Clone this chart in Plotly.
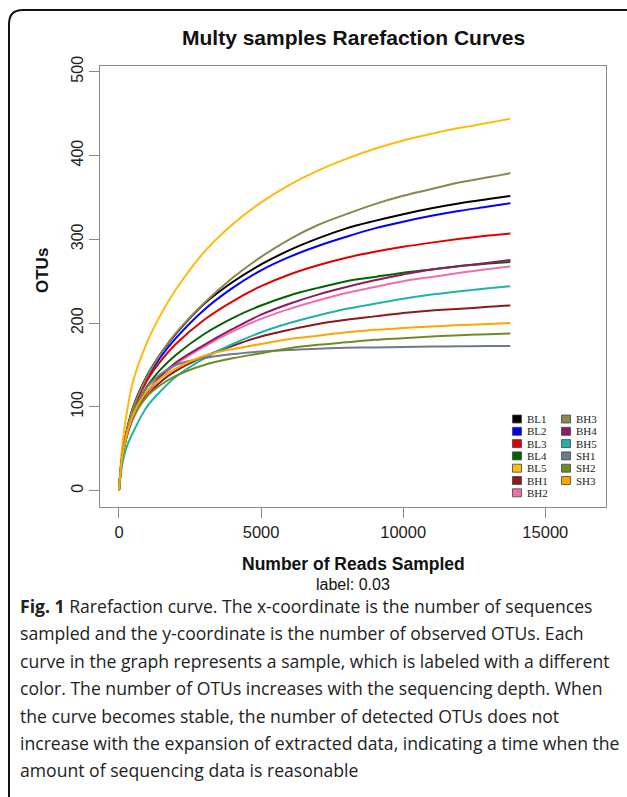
import plotly.graph_objects as go

# ---------------- data ----------------
reads = [0, 100, 250, 500, 1000, 1500, 2000, 3000, 4000, 5000, 6000, 7000,
         8000, 9000, 10000, 11000, 12000, 13000, 13770]

BL1 = [0, 38, 68, 100, 138, 165, 187, 223, 249, 270, 287, 301, 313, 322, 330, 337, 343, 348, 351.7]
BL2 = [0, 38, 67, 98, 135, 161, 182, 216, 242, 263, 279, 292, 303, 313, 321, 328, 334, 339, 343]
BL3 = [0, 38, 67, 97, 132, 156, 175, 204, 226, 244, 258, 269, 278, 285, 291, 296, 300.5, 304.4, 307]
BL4 = [0, 37, 65, 93, 125, 146, 162, 187, 206, 221, 233, 242, 250, 255, 260, 264, 268, 271, 273]
BL5 = [0, 48, 88, 131, 178, 212, 240, 285, 318, 344, 365, 382, 396, 408, 418, 426, 433, 439, 444]
BH1 = [0, 36, 62, 88, 114, 131, 143, 160, 173, 184, 192, 199, 204, 208, 212, 215, 217, 219.5, 221]
BH2 = [0, 35, 61, 86, 116, 136, 151, 172, 190, 205, 217, 227, 236, 243, 250, 255, 260, 264.5, 267.7]
BH3 = [0, 38, 68, 99, 137, 165, 188, 224, 254, 279, 300, 317, 330, 342, 352, 360, 368, 374, 379]
BH4 = [0, 35, 62, 88, 118, 138, 153, 174, 193, 210, 223, 234, 243, 251, 258, 264, 268, 272, 275.3]
BH5 = [0, 28, 50, 70, 101, 120, 136, 158, 175, 189, 200, 209, 217, 223, 229, 234, 238, 241.5, 244]
SH1 = [0, 37, 65, 93, 124, 140, 150, 158, 163, 166, 168, 169.5, 170.5, 171, 171.5, 172, 172.3, 172.5, 172.7]
SH2 = [0, 36, 62, 88, 113, 127, 137, 150, 158, 164, 170, 174, 177, 180, 182, 184, 185.5, 186.8, 187.7]
SH3 = [0, 37, 64, 91, 119, 135, 146, 161, 169, 175, 181, 185, 189, 192, 194, 196, 197.6, 199, 200]

sample_names = ["BL1", "BL2", "BL3", "BL4", "BL5", "BH1", "BH2",
                "BH3", "BH4", "BH5", "SH1", "SH2", "SH3"]
sample_values = [BL1, BL2, BL3, BL4, BL5, BH1, BH2, BH3, BH4, BH5, SH1, SH2, SH3]
sample_colors = ["#000000", "#0000FF", "#E00000", "#006400", "#FFB90F", "#8B1A1A", "#F06EAA",
                 "#8B864E", "#8B1C62", "#20B2AA", "#6C7B8B", "#6B8E23", "#FFA500"]

x_ticks = [0, 5000, 10000, 15000]
y_ticks = [0, 100, 200, 300, 400, 500]

title_text = "Multy samples Rarefaction Curves"
x_title = "Number of Reads Sampled"
sub_title = "label: 0.03"
y_title = "OTUs"
caption_lines = [
    "<b>Fig. 1</b> Rarefaction curve. The x-coordinate is the number of sequences",
    "sampled and the y-coordinate is the number of observed OTUs. Each",
    "curve in the graph represents a sample, which is labeled with a different",
    "color. The number of OTUs increases with the sequencing depth. When",
    "the curve becomes stable, the number of detected OTUs does not",
    "increase with the expansion of extracted data, indicating a time when the",
    "amount of sequencing data is reasonable",
]

# ---------------- layout geometry (pixels) ----------------
W, H = 627, 797
PL, PR, PT, PB = 100, 606, 66, 507   # plot box


def px(xp):
    return (xp - PL) / (PR - PL)


def py(yp):
    return (PB - yp) / (PB - PT)


fig = go.Figure()
for name, vals, col in zip(sample_names, sample_values, sample_colors):
    fig.add_trace(go.Scatter(x=reads, y=vals, mode="lines", name=name,
                             line=dict(color=col, width=2, shape="spline", smoothing=1.0),
                             showlegend=False, hoverinfo="name+x+y"))

SANS = "Liberation Sans, Arial, Helvetica, sans-serif"
annotations = []
shapes = []

# title & axis titles
annotations.append(dict(text="<b>%s</b>" % title_text, x=px(353), y=py(37), xref="paper", yref="paper",
                        showarrow=False, font=dict(family=SANS, size=21, color="#111"),
                        xanchor="center", yanchor="middle"))
annotations.append(dict(text="<b>%s</b>" % x_title, x=px(353), y=py(564), xref="paper", yref="paper",
                        showarrow=False, font=dict(family=SANS, size=17.5, color="#111"),
                        xanchor="center", yanchor="middle"))
annotations.append(dict(text=sub_title, x=px(353), y=py(584), xref="paper", yref="paper",
                        showarrow=False, borderpad=0, font=dict(family=SANS, size=16, color="#111"),
                        xanchor="center", yanchor="middle"))
annotations.append(dict(text="<b>%s</b>" % y_title, x=px(42), y=py(271), xref="paper", yref="paper",
                        showarrow=False, textangle=-90, font=dict(family=SANS, size=17, color="#111"),
                        xanchor="center", yanchor="middle"))

# caption
CAP = "Open Sans, Noto Sans, sans-serif"
for i, line in enumerate(caption_lines):
    annotations.append(dict(text=line, x=px(19), y=py(606 + i * 27.4), xref="paper", yref="paper",
                            showarrow=False, borderpad=0, font=dict(family=CAP, size=17.6, color="#222"),
                            xanchor="left", yanchor="middle"))

# legend (two columns, R style)
col_x = [517, 566]
row_y0, row_dy = 419, 12.3
for i, (name, col) in enumerate(zip(sample_names, sample_colors)):
    c = 0 if i < 7 else 1
    r = i if i < 7 else i - 7
    cx, cy = col_x[c], row_y0 + r * row_dy
    shapes.append(dict(type="rect", xref="paper", yref="paper",
                       x0=px(cx - 4.5), x1=px(cx + 4.5), y0=py(cy + 4), y1=py(cy - 4),
                       fillcolor=col, line=dict(color="#444", width=0.8)))
    annotations.append(dict(text=name, x=px(cx + 8.5), y=py(cy), xref="paper", yref="paper",
                            showarrow=False, borderpad=0,
                            font=dict(family="Liberation Serif, Times New Roman, serif",
                                      size=11, color="#222"),
                            xanchor="left", yanchor="middle"))

# outer rounded frame
rad = 14
path = "M %f,%f L %f,%f Q %f,%f %f,%f L %f,%f" % (
    px(9), py(820), px(9), py(10 + rad), px(9), py(10), px(9 + rad), py(10), px(640), py(10))
shapes.append(dict(type="path", path=path, xref="paper", yref="paper",
                   line=dict(color="#111", width=2)))

fig.update_layout(
    width=W, height=H, autosize=False,
    margin=dict(l=PL, r=W - PR, t=PT, b=H - PB),
    paper_bgcolor="white", plot_bgcolor="white",
    annotations=annotations, shapes=shapes,
    xaxis=dict(range=[-668, 17136], tickvals=x_ticks, ticktext=[str(v) for v in x_ticks],
               ticks="outside", ticklen=10, tickcolor="#888", tickwidth=1,
               showline=True, mirror=True, linecolor="#888", linewidth=1,
               showgrid=False, zeroline=False,
               tickfont=dict(family=SANS, size=16.5, color="#222")),
    yaxis=dict(range=[-19.5, 506.8], tickvals=y_ticks, ticktext=[str(v) for v in y_ticks],
               ticks="outside", ticklen=10, tickcolor="#888", tickwidth=1, tickangle=-90,
               showline=True, mirror=True, linecolor="#888", linewidth=1,
               showgrid=False, zeroline=False,
               tickfont=dict(family=SANS, size=16, color="#222")),
    showlegend=False,
)

fig.write_html("out.html", config={"displayModeBar": False},
               post_script="document.body.style.margin='0';document.body.style.overflow='hidden';")
